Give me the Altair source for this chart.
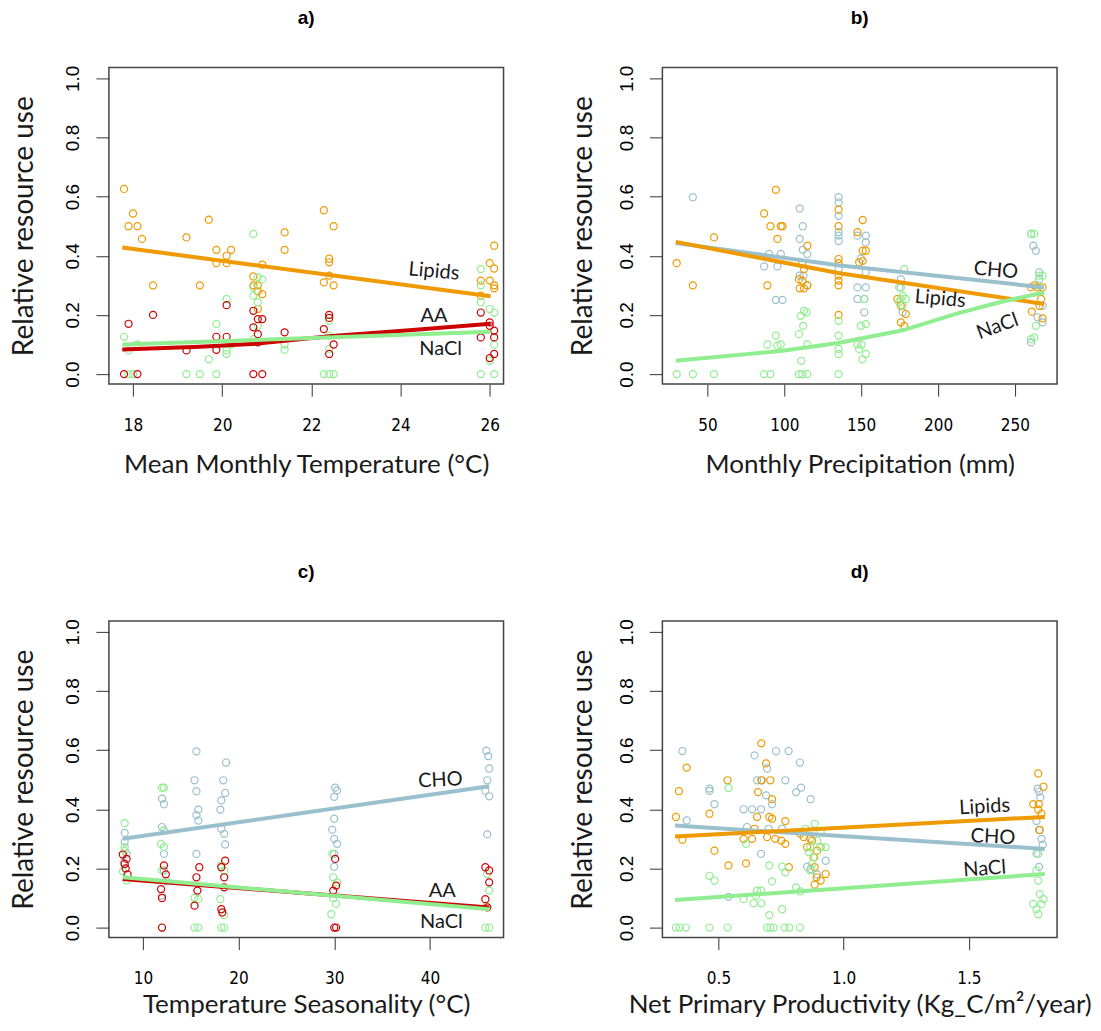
import altair as alt
import pandas as pd

ORANGE = "#EE9A00"
BLUE = "#9AC0CD"
GREEN = "#90EE90"
RED = "#CD0000"

# ---------------- Panel a : Mean Monthly Temperature ----------------
A_LIPIDS = [(17.8,0.626),(18.0,0.543),(17.9,0.50),(18.1,0.50),(18.2,0.457),(18.45,0.30),(19.2,0.462),(19.5,0.30),
            (19.7,0.522),(19.87,0.42),(19.87,0.375),(20.1,0.40),(20.1,0.375),(20.2,0.42),(20.7,0.33),(20.7,0.30),
            (20.8,0.30),(20.8,0.28),(20.8,0.22),(20.9,0.37),(20.9,0.27),(21.4,0.479),(21.4,0.42),(22.28,0.554),
            (22.5,0.50),(22.4,0.39),(22.4,0.378),(22.28,0.31),(22.5,0.30),(22.4,0.333),(25.8,0.316),(26.0,0.316),
            (26.0,0.375),(26.1,0.434),(26.1,0.357),(26.1,0.30),(25.8,0.265),(26.1,0.29)]
A_AA = [(17.8,0.0),(18.1,0.0),(17.9,0.17),(18.45,0.20),(19.2,0.08),(19.87,0.126),(19.87,0.082),(20.1,0.126),
        (20.1,0.233),(20.7,0.0),(20.9,0.0),(20.7,0.214),(20.8,0.186),(20.9,0.186),(20.7,0.158),(20.8,0.135),
        (20.8,0.107),(21.4,0.141),(22.28,0.152),(22.4,0.20),(22.4,0.19),(22.5,0.10),(22.4,0.068),(25.8,0.124),
        (26.1,0.124),(26.0,0.163),(26.1,0.147),(26.0,0.054),(26.1,0.068),(25.8,0.208),(26.0,0.175)]
A_NACL = [(17.8,0.126),(17.9,0.08),(17.9,0.0),(18.0,0.0),(18.1,0.10),(19.2,0.0),(19.5,0.0),(19.87,0.0),(19.7,0.05),
          (19.87,0.17),(20.1,0.254),(20.1,0.08),(20.1,0.068),(20.2,0.10),(20.7,0.474),(20.8,0.327),(20.9,0.32),
          (20.7,0.293),(20.7,0.265),(20.8,0.243),(20.7,0.118),(20.8,0.163),(21.4,0.10),(21.4,0.082),(22.28,0.0),
          (22.4,0.0),(22.5,0.0),(22.4,0.18),(22.4,0.13),(22.4,0.085),(25.8,0.355),(25.8,0.30),(25.8,0.243),
          (26.0,0.22),(26.1,0.208),(26.1,0.10),(26.0,0.045),(25.8,0.0),(26.1,0.0)]
A_LIPIDS_FIT = [(17.76,0.428),(20.7,0.369),(26.02,0.263)]
A_AA_FIT = [(17.76,0.083),(19.5,0.092),(20.8,0.103),(22.4,0.128),(24.2,0.148),(26.02,0.170)]
A_NACL_FIT = [(17.76,0.10),(26.02,0.143)]
A_LABELS = [("Lipids",24.75,0.347,5),("AA",24.75,0.197,0),("NaCl",24.9,0.085,0)]

# ---------------- Panel b : Monthly Precipitation ----------------
B_CHO = [(40.5,0.598),(86.9,0.364),(90,0.406),(95.5,0.364),(94.5,0.251),(98.8,0.251),(97.7,0.406),(110,0.56),
         (112,0.50),(110,0.457),(112,0.42),(115,0.406),(110,0.333),(112.5,0.333),(115,0.30),(135.3,0.598),
         (135.3,0.58),(135.3,0.535),(135.3,0.48),(135.3,0.468),(135.3,0.45),(135.3,0.355),(147.6,0.468),
         (153,0.468),(153,0.445),(149.8,0.39),(153,0.344),(147.6,0.293),(153,0.293),(147.6,0.254),(152,0.254),
         (152,0.209),(175.8,0.321),(175.8,0.293),(177,0.209),(260.5,0.474),(262,0.434),(263.6,0.417),
         (265.8,0.344),(265.8,0.321),(268,0.231),(268,0.175),(264.7,0.192),(260.5,0.107)]
B_LIPIDS = [(30,0.375),(40.5,0.30),(54.3,0.462),(86.9,0.543),(94.5,0.623),(91,0.50),(97.7,0.50),(98.8,0.50),
            (95.5,0.457),(89,0.30),(115,0.434),(109.5,0.32),(111.7,0.316),(112.8,0.29),(115,0.30),(110,0.29),
            (112.8,0.355),(111.7,0.375),(135.3,0.556),(135.3,0.50),(135.3,0.389),(135.3,0.375),(135.3,0.333),
            (135.3,0.316),(135.3,0.30),(135.3,0.20),(151,0.521),(147.6,0.48),(151,0.417),(153,0.417),(151,0.383),
            (148.7,0.378),(173.6,0.254),(175.8,0.231),(179,0.203),(175.8,0.175),(178,0.163),(260.5,0.293),
            (262.6,0.30),(264.7,0.293),(268,0.293),(267,0.254),(261,0.211),(266,0.231),(268,0.188)]
B_NACL = [(30,0.0),(40.5,0.0),(54.3,0.0),(86.9,0.0),(91,0.0),(89,0.10),(94.5,0.13),(95.5,0.096),(97.7,0.10),
          (109.5,0.0),(111.7,0.0),(115,0.0),(111,0.045),(109.5,0.135),(112.3,0.163),(110.6,0.197),(112.8,0.214),
          (114.5,0.209),(115,0.10),(135.3,0.0),(135.3,0.13),(135.3,0.085),(135.3,0.068),(135.3,0.18),(149.8,0.163),
          (153,0.169),(147.6,0.10),(150.2,0.10),(148.7,0.085),(153,0.068),(150.8,0.05),(152,0.254),(178,0.355),
          (174.7,0.293),(177,0.265),(174.7,0.243),(177,0.231),(175.8,0.254),(179,0.254),(260.5,0.474),
          (262.6,0.474),(265.8,0.333),(268,0.333),(264.7,0.30),(263.6,0.163),(260.5,0.118),(262.6,0.124)]
B_CHO_FIT = [(29.4,0.443),(135,0.368),(269,0.293)]
B_LIPIDS_FIT = [(29.4,0.447),(135,0.342),(269,0.237)]
B_NACL_FIT = [(29.4,0.045),(98.8,0.079),(135,0.105),(177,0.148),(212.7,0.205),(240,0.243),(269,0.276)]
B_LABELS = [("CHO",237.6,0.35,5),("Lipids",201.4,0.254,5),("NaCl",238.7,0.161,340)]

# ---------------- Panel c : Temperature Seasonality ----------------
C_CHO = [(8.1,0.32),(8.1,0.29),(8.3,0.25),(8.0,0.22),(12.0,0.436),(12.2,0.417),(12.0,0.34),(12.2,0.328),
         (12.2,0.249),(12.2,0.193),(12.0,0.108),(12.4,0.159),(15.6,0.596),(15.4,0.498),(15.6,0.461),(15.8,0.399),
         (15.6,0.38),(15.8,0.362),(15.6,0.249),(18.7,0.558),(18.4,0.498),(18.6,0.455),(18.2,0.43),(18.1,0.399),
         (18.2,0.334),(18.5,0.317),(18.6,0.281),(30.1,0.473),(30.3,0.464),(30.0,0.442),(30.0,0.368),(29.8,0.331),
         (30.0,0.30),(30.3,0.283),(30.0,0.249),(30.0,0.206),(45.9,0.598),(46.1,0.58),(46.2,0.538),(46.0,0.498),
         (45.8,0.462),(46.2,0.444),(46.0,0.315)]
C_NACL = [(8.1,0.353),(8.1,0.272),(8.1,0.26),(8.3,0.159),(7.9,0.19),(12.0,0.473),(12.2,0.473),(12.2,0.328),
          (11.9,0.283),(12.2,0.272),(12.0,0.193),(12.0,0.0),(15.4,0.0),(15.8,0.0),(15.8,0.096),(15.4,0.10),
          (18.2,0.21),(18.5,0.193),(18.1,0.096),(18.5,0.042),(18.2,0.0),(18.5,0.0),(29.8,0.249),(29.9,0.17),
          (30.3,0.153),(29.9,0.10),(29.7,0.045),(30.2,0.08),(46.0,0.181),(46.2,0.125),(45.9,0.074),(45.8,0.0),
          (46.2,0.0)]
C_AA = [(8.1,0.215),(8.3,0.232),(8.2,0.20),(8.4,0.18),(7.9,0.247),(12.0,0.0),(12.2,0.21),(12.4,0.18),(12.0,0.10),
        (11.9,0.13),(15.9,0.204),(15.6,0.17),(15.7,0.125),(15.4,0.074),(18.6,0.226),(18.2,0.204),(18.5,0.17),
        (18.5,0.136),(18.2,0.062),(18.3,0.051),(30.0,0.0),(30.2,0.0),(30.1,0.232),(30.2,0.142),(29.9,0.125),
        (45.8,0.204),(46.2,0.193),(46.2,0.153),(45.8,0.096),(46.0,0.068)]
C_CHO_FIT = [(7.9,0.30),(46.2,0.478)]
C_AA_FIT = [(7.9,0.164),(46.2,0.068)]
C_NACL_FIT = [(7.9,0.17),(46.2,0.062)]
C_LABELS = [("CHO",41.1,0.498,357),("AA",41.3,0.125,0),("NaCl",41.2,0.02,0)]

# ---------------- Panel d : Net Primary Productivity ----------------
D_CHO = [(0.356,0.597),(0.373,0.362),(0.464,0.47),(0.464,0.462),(0.484,0.417),(0.54,0.104),(0.614,0.34),(0.60,0.40),
         (0.634,0.40),(0.67,0.40),(0.644,0.582),(0.654,0.498),(0.674,0.498),(0.694,0.538),(0.69,0.447),(0.714,0.417),
         (0.70,0.334),(0.754,0.334),(0.67,0.249),(0.73,0.597),(0.767,0.498),(0.78,0.597),(0.825,0.558),(0.81,0.458),
         (0.83,0.473),(0.868,0.434),(0.854,0.206),(0.868,0.198),(0.928,0.226),(0.894,0.18),(1.775,0.47),(1.78,0.46),
         (1.785,0.44),(1.77,0.36),(1.78,0.33),(1.79,0.30),(1.795,0.28),(1.77,0.25),(1.78,0.205)]
D_LIPIDS = [(0.33,0.374),(0.342,0.461),(0.373,0.541),(0.356,0.297),(0.464,0.385),(0.484,0.26),(0.536,0.498),
            (0.54,0.21),(0.61,0.217),(0.60,0.30),(0.634,0.30),(0.644,0.334),(0.654,0.374),(0.658,0.458),(0.671,0.623),
            (0.671,0.498),(0.707,0.498),(0.69,0.555),(0.694,0.306),(0.703,0.374),(0.714,0.368),(0.714,0.434),
            (0.727,0.30),(0.751,0.294),(0.767,0.36),(0.767,0.283),(0.781,0.204),(0.827,0.317),(0.84,0.306),
            (0.867,0.30),(0.874,0.294),(0.854,0.272),(0.88,0.238),(0.894,0.26),(0.884,0.204),(0.892,0.17),
            (0.908,0.159),(0.884,0.145),(0.908,0.272),(0.928,0.181),(1.777,0.521),(1.798,0.476),(1.757,0.417),
            (1.779,0.417),(1.777,0.399),(1.79,0.385),(1.783,0.33)]
D_NACL = [(0.33,0.0),(0.345,0.0),(0.37,0.0),(0.464,0.0),(0.536,0.0),(0.694,0.0),(0.707,0.0),(0.72,0.0),(0.764,0.0),
          (0.783,0.0),(0.825,0.0),(0.464,0.175),(0.484,0.159),(0.54,0.472),(0.61,0.283),(0.60,0.096),(0.64,0.082),
          (0.654,0.125),(0.67,0.125),(0.65,0.108),(0.671,0.082),(0.703,0.21),(0.703,0.042),(0.714,0.156),
          (0.754,0.062),(0.754,0.206),(0.767,0.187),(0.81,0.136),(0.827,0.122),(0.847,0.334),(0.884,0.351),
          (0.894,0.294),(0.867,0.272),(0.86,0.255),(0.884,0.238),(0.908,0.272),(0.928,0.272),(0.908,0.323),
          (0.874,0.215),(0.867,0.193),(1.777,0.159),(1.77,0.193),(1.777,0.249),(1.783,0.113),(1.798,0.096),
          (1.757,0.08),(1.77,0.062),(1.79,0.08),(1.777,0.045)]
D_LIPIDS_FIT = [(0.326,0.308),(1.803,0.374)]
D_CHO_FIT = [(0.326,0.345),(1.803,0.266)]
D_NACL_FIT = [(0.326,0.093),(1.803,0.181)]
D_LABELS = [("Lipids",1.563,0.408,357),("CHO",1.596,0.306,3),("NaCl",1.563,0.198,356)]

Y_TICKS = [0.0, 0.2, 0.4, 0.6, 0.8, 1.0]
Y_DOMAIN = [-0.034, 1.037]
SERIES = ["Lipids", "CHO", "NaCl", "AA"]
COLORS = {"Lipids": ORANGE, "CHO": BLUE, "NaCl": GREEN, "AA": RED}

PW, PH = 395, 317
TICK_FONT = "Liberation Sans Narrow, DejaVu Sans Condensed, Liberation Sans, sans-serif"


def panel(letter, xtitle, xdom, xticks, xfmt, ytitle_x, xtitle_y, points, fits, labels):
    xenc = alt.X("x:Q", scale=alt.Scale(domain=xdom, nice=False, zero=False),
                 axis=alt.Axis(values=xticks, format=xfmt, title=xtitle, grid=False, domain=False,
                               tickSize=12, tickColor="#333", tickWidth=1,
                               labelFont=TICK_FONT, labelFontSize=17, labelColor="#000",
                               labelPadding=29, labelBaseline="middle", labelOverlap=False, labelFlush=False,
                               titleFont="Lato", titleFontSize=26, titleFontWeight="normal", titleColor="#1a1a1a",
                               titleY=xtitle_y, titleBaseline="middle"))
    yenc = alt.Y("y:Q", scale=alt.Scale(domain=Y_DOMAIN, nice=False, zero=False),
                 axis=alt.Axis(values=Y_TICKS, format=".1f", title="Relative resource use", grid=False,
                               domain=False, tickSize=13, tickColor="#333", tickWidth=1,
                               labelFont="Liberation Sans", labelFontSize=19, labelColor="#000",
                               labelAngle=270, labelAlign="center", labelBaseline="alphabetic",
                               labelPadding=17, labelOverlap=False,
                               titleFont="Lato", titleFontSize=28, titleFontWeight="normal", titleColor="#1a1a1a",
                               titleAngle=270, titleX=ytitle_x, titleY=PH / 2, titleAlign="center",
                               titleBaseline="middle"))
    rows = [{"x": x, "y": y, "s": s} for s, arr in points for (x, y) in arr]
    pts = alt.Chart(pd.DataFrame(rows)).mark_point(
        shape="circle", filled=False, size=50, strokeWidth=1.2, opacity=1
    ).encode(
        x=xenc, y=yenc,
        color=alt.Color("s:N", scale=alt.Scale(domain=SERIES, range=[COLORS[s] for s in SERIES]), legend=None),
    )
    layers = [pts]
    for s, arr in fits:
        df = pd.DataFrame([{"x": x, "y": y} for (x, y) in arr])
        layers.append(alt.Chart(df).mark_line(color=COLORS[s], strokeWidth=4).encode(x=xenc, y=yenc))
    ldf = pd.DataFrame([{"t": t, "x": x, "y": y, "a": a} for (t, x, y, a) in labels])
    layers.append(alt.Chart(ldf).mark_text(font="Lato", fontSize=20, color="#1a1a1a",
                                          align="center", baseline="middle").encode(
        x=xenc, y=yenc, text="t:N", angle=alt.Angle("a:Q", scale=None)))
    tdf = pd.DataFrame({"t": [letter]})
    layers.append(alt.Chart(tdf).mark_text(font="Liberation Sans", fontSize=19, fontWeight="bold", color="#000",
                                          align="center", baseline="middle").encode(
        text="t:N", x=alt.value(PW / 2), y=alt.value(-49)))
    return alt.layer(*layers).properties(width=PW, height=PH)


pa = panel("a)", "Mean Monthly Temperature (°C)", [17.46, 26.31], [18, 20, 22, 24, 26], "d", -84, 80,
           [("Lipids", A_LIPIDS), ("NaCl", A_NACL), ("AA", A_AA)],
           [("Lipids", A_LIPIDS_FIT), ("AA", A_AA_FIT), ("NaCl", A_NACL_FIT)], A_LABELS)
pb = panel("b)", "Monthly Precipitation (mm)", [20.7, 277.4], [50, 100, 150, 200, 250], "d", -79, 80,
           [("CHO", B_CHO), ("Lipids", B_LIPIDS), ("NaCl", B_NACL)],
           [("CHO", B_CHO_FIT), ("Lipids", B_LIPIDS_FIT), ("NaCl", B_NACL_FIT)], B_LABELS)
pc = panel("c)", "Temperature Seasonality (°C)", [6.45, 47.7], [10, 20, 30, 40], "d", -84, 67,
           [("CHO", C_CHO), ("NaCl", C_NACL), ("AA", C_AA)],
           [("CHO", C_CHO_FIT), ("AA", C_AA_FIT), ("NaCl", C_NACL_FIT)], C_LABELS)
pd_ = panel("d)", "Net Primary Productivity (Kg_C/m²/year)", [0.276, 1.852], [0.5, 1.0, 1.5], ".1f", -79, 67,
            [("CHO", D_CHO), ("Lipids", D_LIPIDS), ("NaCl", D_NACL)],
            [("CHO", D_CHO_FIT), ("NaCl", D_NACL_FIT), ("Lipids", D_LIPIDS_FIT)], D_LABELS)

chart = alt.concat(pa, pb, pc, pd_, columns=2, spacing={"row": 237, "column": 159}, bounds="flush").properties(
    padding={"left": 2, "top": 0, "right": 0, "bottom": 0},
    background="white",
).configure_view(stroke="#444", strokeWidth=1.5)

chart.save("out.html", embed_options={"renderer": "svg", "actions": False})
